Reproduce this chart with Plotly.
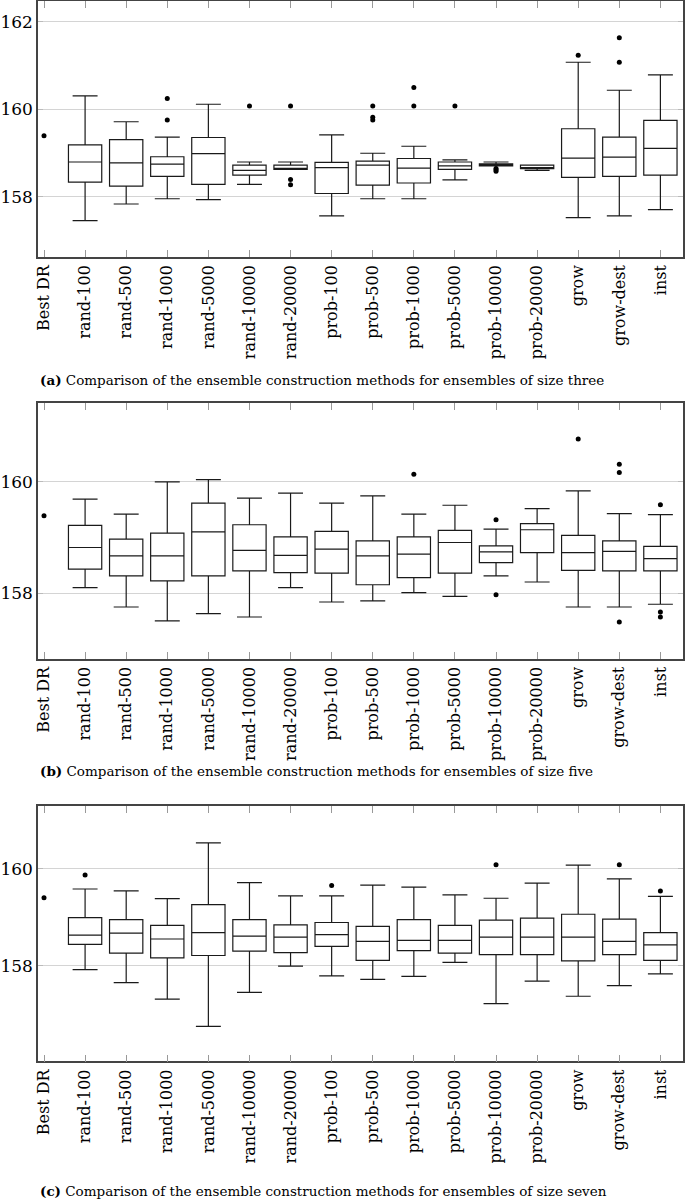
import plotly.graph_objects as go

categories = ["Best DR", "rand-100", "rand-500", "rand-1000", "rand-5000", "rand-10000",
              "rand-20000", "prob-100", "prob-500", "prob-1000", "prob-5000", "prob-10000",
              "prob-20000", "grow", "grow-dest", "inst"]
methods = categories[1:]

# Panel (a): ensembles of size three
a_best = 159.40
a_lo  = [157.46, 157.84, 157.96, 157.94, 158.29, 158.63, 157.57, 157.96, 157.96, 158.39, 158.71, 158.61, 157.53, 157.57, 157.71]
a_q1  = [158.34, 158.25, 158.47, 158.29, 158.50, 158.63, 158.08, 158.27, 158.32, 158.63, 158.71, 158.65, 158.45, 158.47, 158.50]
a_med = [158.80, 158.78, 158.75, 158.99, 158.61, 158.65, 158.67, 158.73, 158.66, 158.71, 158.74, 158.67, 158.89, 158.91, 159.11]
a_q3  = [159.19, 159.31, 158.92, 159.36, 158.73, 158.73, 158.79, 158.82, 158.88, 158.80, 158.76, 158.73, 159.56, 159.37, 159.75]
a_hi  = [160.31, 159.72, 159.37, 160.12, 158.80, 158.80, 159.42, 159.00, 159.16, 158.85, 158.80, 158.73, 161.08, 160.44, 160.79]
a_out = [[], [], [159.76, 160.25], [], [160.08], [160.08, 158.40, 158.28], [], [160.08, 159.82, 159.76],
         [160.50, 160.08], [160.08], [158.65, 158.62, 158.59], [], [161.24], [161.64, 161.08], []]

# Panel (b): ensembles of size five
b_best = 159.39
b_lo  = [158.10, 157.75, 157.50, 157.63, 157.57, 158.10, 157.84, 157.86, 158.01, 157.94, 158.31, 158.20, 157.75, 157.75, 157.80]
b_q1  = [158.43, 158.31, 158.22, 158.31, 158.40, 158.37, 158.36, 158.15, 158.28, 158.36, 158.55, 158.73, 158.41, 158.40, 158.40]
b_med = [158.82, 158.67, 158.67, 159.10, 158.77, 158.68, 158.79, 158.67, 158.70, 158.91, 158.74, 159.14, 158.73, 158.75, 158.62]
b_q3  = [159.22, 158.97, 159.08, 159.62, 159.23, 159.01, 159.11, 158.94, 159.01, 159.13, 158.85, 159.25, 159.04, 158.94, 158.84]
b_hi  = [159.69, 159.42, 160.00, 160.04, 159.71, 159.80, 159.62, 159.75, 159.42, 159.58, 159.15, 159.52, 159.84, 159.43, 159.41]
b_out = [[], [], [], [], [], [], [], [], [160.14], [], [159.32, 157.97], [], [160.77],
         [160.32, 160.17, 157.48], [159.59, 157.66, 157.57]]

# Panel (c): ensembles of size seven
c_best = 159.40
c_lo  = [157.92, 157.65, 157.31, 156.75, 157.45, 157.99, 157.79, 157.72, 157.78, 158.07, 157.22, 157.68, 157.37, 157.59, 157.83]
c_q1  = [158.44, 158.26, 158.16, 158.21, 158.30, 158.27, 158.40, 158.11, 158.31, 158.26, 158.23, 158.23, 158.10, 158.23, 158.11]
c_med = [158.63, 158.67, 158.55, 158.68, 158.61, 158.59, 158.64, 158.50, 158.52, 158.52, 158.59, 158.59, 158.59, 158.50, 158.43]
c_q3  = [158.99, 158.95, 158.83, 159.26, 158.95, 158.84, 158.89, 158.81, 158.95, 158.83, 158.94, 158.98, 159.06, 158.96, 158.68]
c_hi  = [159.58, 159.54, 159.38, 160.53, 159.71, 159.44, 159.44, 159.66, 159.62, 159.46, 159.39, 159.70, 160.07, 159.79, 159.43]
c_out = [[159.87], [], [], [], [], [], [159.65], [], [], [], [160.08], [], [], [160.08], [159.54]]

captions = ["<b>(a)</b> Comparison of the ensemble construction methods for ensembles of size three",
            "<b>(b)</b> Comparison of the ensemble construction methods for ensembles of size five",
            "<b>(c)</b> Comparison of the ensemble construction methods for ensembles of size seven"]

panels = [
    dict(best=a_best, lo=a_lo, q1=a_q1, med=a_med, q3=a_q3, hi=a_hi, out=a_out, yr=[156.63, 162.48],
         dom=[0.7866, 0.99917], cap_y=0.6844),
    dict(best=b_best, lo=b_lo, q1=b_q1, med=b_med, q3=b_q3, hi=b_hi, out=b_out, yr=[156.82, 161.42],
         dom=[0.4529, 0.6653], cap_y=0.3596),
    dict(best=c_best, lo=c_lo, q1=c_q1, med=c_med, q3=c_q3, hi=c_hi, out=c_out, yr=[156.03, 161.29],
         dom=[0.11852, 0.33056], cap_y=0.0108),
]

FONT = "DejaVu Serif"
fig = go.Figure()
layout = dict(width=685, height=1204, margin=dict(l=38, r=2, t=0, b=0, autoexpand=False),
              paper_bgcolor="white", plot_bgcolor="white", showlegend=False,
              font=dict(family=FONT, color="black"))
annotations = []
xs = list(range(1, len(categories)))

for k, p in enumerate(panels):
    sfx = "" if k == 0 else str(k + 1)
    xa, ya = "x" + sfx, "y" + sfx
    fig.add_trace(go.Box(
        x=xs, q1=p["q1"], median=p["med"], q3=p["q3"],
        lowerfence=p["lo"], upperfence=p["hi"],
        width=0.81, whiskerwidth=0.75, boxpoints=False,
        line=dict(color="#1a1a1a", width=1.2), fillcolor="rgba(255,255,255,0)",
        xaxis=xa, yaxis=ya, hoverinfo="skip"))
    ox, oy = [], []
    for i, vals in enumerate(p["out"]):
        for v in vals:
            ox.append(xs[i]); oy.append(v)
    ox.append(0); oy.append(p["best"])
    fig.add_trace(go.Scatter(x=ox, y=oy, mode="markers",
                             marker=dict(color="black", size=5),
                             xaxis=xa, yaxis=ya, hoverinfo="skip"))
    layout["xaxis" + sfx] = dict(
        domain=[0, 1], range=[-0.146, 15.55], anchor=ya, automargin=False,
        tickmode="array", tickvals=list(range(len(categories))), ticktext=categories,
        tickangle=-90, ticks="inside", ticklen=7, tickcolor="#999", tickwidth=1,
        showgrid=False, zeroline=False, showline=True, linecolor="#444", linewidth=1.5,
        mirror="ticks", tickfont=dict(family=FONT, size=16, color="black"))
    layout["yaxis" + sfx] = dict(
        domain=p["dom"], range=p["yr"], anchor=xa, dtick=2, tick0=0, automargin=False,
        ticks="inside", ticklen=5, tickcolor="#bbb",
        showgrid=True, gridcolor="#d4d4d4", gridwidth=1, zeroline=False,
        showline=True, linecolor="#444", linewidth=1.5, mirror="ticks",
        tickfont=dict(family=FONT, size=17, color="black"))
    annotations.append(dict(text=captions[k], x=0.0, xref="paper", xanchor="left",
                            y=p["cap_y"], yref="paper", yanchor="middle", showarrow=False,
                            font=dict(family=FONT, size=13.5, color="black")))

layout["annotations"] = annotations
fig.update_layout(**layout)
fig.write_html("out.html", config={"displayModeBar": False},
               post_script="document.body.style.margin='0';document.body.style.padding='0';")
